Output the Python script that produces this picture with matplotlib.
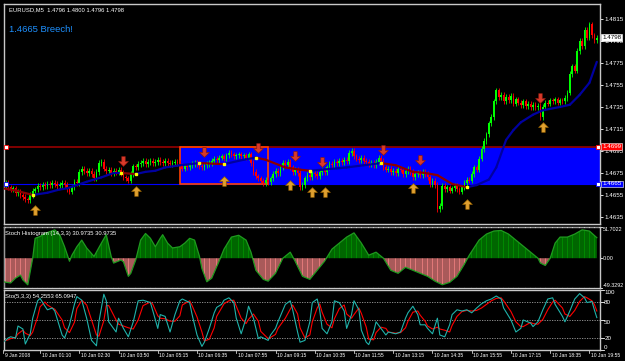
import numpy as np
import matplotlib
matplotlib.use("Agg")
import matplotlib.pyplot as plt
from matplotlib.path import Path
from matplotlib.patches import Rectangle

plt.rcParams['font.family'] = ['Liberation Sans', 'DejaVu Sans']

# ---------------- data ----------------
closes = [
    1.4664, 1.4666, 1.4662, 1.4660, 1.4661, 1.4657, 1.4658, 1.4655, 1.4653, 1.4651,
    1.4650, 1.4655, 1.4659, 1.4660, 1.4663, 1.4662, 1.4664, 1.4663, 1.4665, 1.4664,
    1.4666, 1.4665, 1.4663, 1.4664, 1.4666, 1.4664, 1.4660, 1.4658, 1.4662, 1.4667,
    1.4666, 1.4676, 1.4679, 1.4677, 1.4675, 1.4677, 1.4674, 1.4670, 1.4676, 1.4684,
    1.4685, 1.4679, 1.4677, 1.4678, 1.4675, 1.4677, 1.4676, 1.4678, 1.4675, 1.4671,
    1.4670, 1.4668, 1.4674, 1.4681, 1.4680, 1.4683, 1.4684, 1.4686, 1.4683, 1.4685,
    1.4686, 1.4684, 1.4685, 1.4687, 1.4685, 1.4684, 1.4686, 1.4684, 1.4683, 1.4684,
    1.4685, 1.4684, 1.4682, 1.4679, 1.4681, 1.4680, 1.4682, 1.4683, 1.4684, 1.4683,
    1.4681, 1.4680, 1.4682, 1.4683, 1.4684, 1.4686, 1.4688, 1.4687, 1.4689, 1.4690,
    1.4688, 1.4691, 1.4693, 1.4692, 1.4690, 1.4691, 1.4692, 1.4690, 1.4691, 1.4689,
    1.4692, 1.4684, 1.4676, 1.4672, 1.4670, 1.4668, 1.4666, 1.4669, 1.4667, 1.4670,
    1.4674, 1.4677, 1.4675, 1.4680, 1.4684, 1.4682, 1.4685, 1.4680, 1.4676, 1.4678,
    1.4675, 1.4662, 1.4664, 1.4670, 1.4673, 1.4671, 1.4675, 1.4674, 1.4672, 1.4676,
    1.4678, 1.4676, 1.4680, 1.4683, 1.4682, 1.4685, 1.4684, 1.4686, 1.4685, 1.4687,
    1.4686, 1.4693, 1.4695, 1.4690, 1.4688, 1.4687, 1.4689, 1.4686, 1.4685, 1.4683,
    1.4684, 1.4682, 1.4685, 1.4689, 1.4686, 1.4680, 1.4678, 1.4679, 1.4676, 1.4677,
    1.4675, 1.4679, 1.4678, 1.4674, 1.4677, 1.4679, 1.4676, 1.4671, 1.4674, 1.4675,
    1.4673, 1.4676, 1.4674, 1.4671, 1.4665, 1.4668, 1.4664, 1.4642, 1.4645, 1.4663,
    1.4660, 1.4662, 1.4659, 1.4661, 1.4663, 1.4660, 1.4658, 1.4662, 1.4666, 1.4669,
    1.4668, 1.4674, 1.4680, 1.4678, 1.4688, 1.4697, 1.4704, 1.4710, 1.4720, 1.4726,
    1.4740, 1.4750, 1.4744, 1.4746, 1.4740, 1.4744, 1.4741, 1.4745, 1.4738, 1.4742,
    1.4739, 1.4737, 1.4740, 1.4736, 1.4738, 1.4735, 1.4737, 1.4735, 1.4736, 1.4726,
    1.4735, 1.4739, 1.4738, 1.4741, 1.4740, 1.4742, 1.4739, 1.4741, 1.4740, 1.4743,
    1.4748, 1.4765, 1.4772, 1.4768, 1.4786, 1.4795, 1.4790, 1.4805, 1.4798, 1.4810,
    1.4800, 1.4796, 1.4798,
]

# moving average (bar index, value)
ma_idx = [0, 5, 12, 18, 23, 26, 30, 34, 40, 45, 48, 54, 58, 62, 66, 72, 80, 90, 98,
          103, 107, 115, 121, 125, 130, 140, 147, 154, 160, 167, 172, 177, 183, 189,
          193, 198, 201, 205, 208, 211, 216, 220, 227, 231, 235, 239, 242]
ma_val = [1.4661, 1.4659, 1.4655, 1.4657, 1.4660, 1.4661, 1.4664, 1.4667, 1.4671,
          1.4675, 1.4675, 1.4674, 1.4676, 1.4677, 1.4680, 1.4682, 1.4684, 1.4683,
          1.4687, 1.4689, 1.4687, 1.4680, 1.4678, 1.4677, 1.4678, 1.4680, 1.4682,
          1.4684, 1.4682, 1.4676, 1.4675, 1.4673, 1.4665, 1.4662, 1.4664, 1.4669,
          1.4680, 1.4705, 1.4714, 1.4721, 1.4728, 1.4732, 1.4735, 1.4737, 1.4746,
          1.4757, 1.4776]

up_idx = [13, 54, 90, 117, 126, 131, 167, 189, 220]
up_price = [1.4641, 1.4659, 1.4668, 1.4664, 1.4658, 1.4658, 1.4661, 1.4647, 1.4717]
dn_idx = [49, 82, 104, 119, 130, 155, 170, 219]
dn_price = [1.4686, 1.4694, 1.4698, 1.4690, 1.4685, 1.4696, 1.4687, 1.4743]

breech_hi = 1.4699
breech_lo = 1.4665
box_start, box_end = 72, 108

hist_idx = [0, 3, 5, 7, 8, 10, 12, 13, 15, 17, 19, 21, 23, 25, 27, 28, 30, 32, 34,
            37, 40, 42, 44, 45, 48, 49, 51, 52, 54, 56, 58, 60, 62, 64, 65, 67, 69,
            72, 74, 76, 78, 80, 81, 83, 85, 88, 90, 93, 96, 99, 101, 103, 106, 108,
            111, 114, 117, 119, 122, 125, 128, 131, 134, 137, 140, 143, 146, 149,
            152, 155, 158, 161, 164, 167, 170, 173, 176, 179, 182, 185, 188, 190,
            194, 197, 200, 203, 206, 209, 212, 215, 218, 219, 221, 223, 225, 227,
            230, 233, 236, 239, 242]
hist_val = [-39, -41, -33, -28, -36, -44, 0, 33, 36, 41, 44, 47, 39, 19, -5, 5, 19,
            30, 17, 3, 25, 39, 3, -8, -3, -6, -30, -25, -3, 30, 41, 33, 19, 33, 39,
            25, 17, 19, 25, 33, 30, 3, -17, -39, -33, -5, 15, 35, 38, 30, 10, -20,
            -35, -38, -25, 0, 10, -5, -30, -35, -20, -5, 15, 25, 35, 42, 25, 5, 10,
            0, -20, -25, -15, -20, -25, -30, -38, -44, -40, -30, -10, 5, 30, 40,
            45, 46, 40, 30, 20, 10, 0, -8, -12, 0, 25, 35, 35, 40, 47, 45, 34]

sto_idx = [0, 2, 3, 5, 6, 8, 9, 11, 12, 14, 15, 17, 18, 20, 21, 24, 25, 27, 29, 30,
           32, 34, 36, 38, 39, 41, 42, 43, 46, 47, 49, 51, 53, 55, 57, 60, 61, 63,
           64, 66, 68, 70, 72, 73, 76, 77, 79, 81, 82, 84, 86, 87, 89, 90, 92, 94,
           95, 97, 99, 100, 102, 104, 105, 108, 109, 111, 112, 115, 117, 118, 120,
           121, 123, 125, 126, 128, 129, 130, 132, 134, 135, 137, 139, 140, 142, 143,
           145, 146, 148, 149, 151, 152, 154, 156, 157, 160, 162, 164, 165, 167, 169,
           170, 172, 173, 175, 177, 178, 180, 182, 183, 185, 187, 189, 191, 193, 195,
           197, 199, 201, 203, 204, 207, 209, 211, 212, 215, 216, 218, 220, 222, 224,
           225, 228, 229, 231, 233, 235, 237, 238, 240, 241, 242]
sto_main = [13, 20, 22, 20, 40, 35, 10, 27, 53, 82, 86, 73, 67, 70, 65, 25, 20, 42,
            76, 89, 83, 53, 16, 7, 47, 93, 82, 47, 30, 53, 36, 22, 47, 82, 83, 79, 65,
            36, 59, 56, 30, 59, 82, 85, 79, 59, 25, 6, 13, 36, 62, 71, 76, 83, 87, 79,
            53, 27, 53, 73, 53, 19, 22, 16, 25, 36, 47, 76, 82, 67, 30, 13, 16, 47, 79,
            85, 67, 36, 27, 47, 82, 79, 65, 36, 59, 82, 67, 33, 13, 9, 30, 47, 36, 25,
            30, 27, 30, 53, 62, 73, 59, 42, 42, 36, 27, 53, 25, 22, 42, 59, 67, 65, 67,
            62, 70, 77, 82, 85, 90, 85, 70, 50, 30, 36, 50, 45, 39, 47, 67, 85, 87, 76,
            56, 47, 65, 85, 94, 87, 79, 81, 67, 54]
sto_signal = [15, 17, 19, 21, 27, 33, 28, 24, 30, 55, 72, 80, 75, 70, 68, 50, 37, 29,
              46, 69, 83, 75, 50, 25, 23, 49, 74, 74, 50, 43, 40, 37, 35, 50, 74, 80,
              76, 57, 53, 52, 48, 48, 57, 75, 82, 74, 55, 30, 15, 18, 37, 56, 70, 77,
              82, 83, 73, 53, 44, 51, 60, 48, 31, 19, 21, 26, 36, 53, 68, 75, 60, 37,
              20, 25, 47, 70, 77, 63, 43, 37, 52, 69, 75, 60, 53, 59, 70, 61, 38, 18,
              17, 29, 38, 36, 30, 28, 29, 37, 48, 63, 65, 58, 48, 40, 35, 38, 35, 33,
              30, 41, 56, 64, 66, 65, 66, 70, 76, 82, 86, 87, 82, 64, 47, 39, 39, 46,
              44, 43, 51, 67, 80, 83, 70, 60, 56, 66, 81, 89, 87, 82, 76, 65]

price_ticks = [1.4635, 1.4655, 1.4675, 1.4695, 1.4715, 1.4735, 1.4755, 1.4775,
               1.4795, 1.4815]
time_idx = [0, 15, 31, 47, 63, 79, 95, 111, 127, 143, 159, 175, 191, 207, 223, 239]
time_labels = ['9 Jan 2008', '10 Jan 01:10', '10 Jan 02:30', '10 Jan 03:50',
               '10 Jan 05:15', '10 Jan 06:35', '10 Jan 07:55', '10 Jan 09:15',
               '10 Jan 10:35', '10 Jan 11:55', '10 Jan 13:15', '10 Jan 14:35',
               '10 Jan 15:55', '10 Jan 17:15', '10 Jan 18:35', '10 Jan 19:55']

# ---------------- figure ----------------
W, H = 625, 361
fig = plt.figure(figsize=(W / 100, H / 100), dpi=100)
fig.patch.set_facecolor('black')


def px_axes(x0, y0, x1, y1):
    return fig.add_axes([x0 / W, 1 - y1 / H, (x1 - x0) / W, (y1 - y0) / H])


ax1 = px_axes(4, 4, 600, 224)
ax2 = px_axes(4, 227, 600, 288)
ax3 = px_axes(4, 290, 600, 350)

XMIN, XMAX = 0.3, 243.3
for ax in (ax1, ax2, ax3):
    ax.set_facecolor('black')
    ax.set_xlim(XMIN, XMAX)
    for s in ax.spines.values():
        s.set_color('#c8c8c8')
        s.set_linewidth(1.0)
    ax.yaxis.tick_right()
    ax.tick_params(axis='y', colors='white', labelsize=4.5, length=2, width=0.6, pad=1)
    ax.tick_params(axis='x', bottom=False, labelbottom=False)

# ---------------- main price panel ----------------
ax1.set_ylim(1.46286, 1.48286)

# breech zone
ax1.add_patch(Rectangle((box_start, breech_lo), XMAX - box_start, breech_hi - breech_lo,
                        facecolor='#0000ff', edgecolor='none', zorder=1))
ax1.axhline(breech_hi, color='#8b0000', lw=1.3, zorder=2)
ax1.axhline(breech_lo, color='#0000ff', lw=0.8, zorder=2)
ax1.add_patch(Rectangle((box_start, breech_lo), box_end - box_start, breech_hi - breech_lo,
                        facecolor='none', edgecolor='#ff4000', lw=1.2, zorder=3))
for yv, ec in ((breech_hi, '#ff0000'), (breech_lo, '#0000ff')):
    ax1.plot([XMIN + 0.8, XMAX - 0.8], [yv, yv], 's', ms=2.5, mfc='white', mec=ec,
             mew=0.6, zorder=6, clip_on=False)

# candles
c = np.array(closes)
o = np.r_[c[0] + 0.0002, c[:-1]]
idx = np.arange(len(c))
hi = np.maximum(o, c) + 0.00025
lo = np.minimum(o, c) - 0.00025
col = np.where(c >= o, '#00ff00', '#ff0000')
ax1.vlines(idx, lo, hi, colors=col, lw=0.6, zorder=4)
body = np.maximum(np.abs(c - o), 0.00005)
ax1.bar(idx, body, bottom=np.minimum(o, c), width=0.7, color=col, lw=0, zorder=4)

# moving average, red where falling
for k in range(len(ma_idx) - 1):
    falling = ma_val[k + 1] < ma_val[k]
    ax1.plot(ma_idx[k:k + 2], ma_val[k:k + 2], color='#8b0000' if falling else '#0000a0',
             lw=1.6, solid_capstyle='round', zorder=5)
for k in range(1, len(ma_idx) - 1):
    if (ma_val[k + 1] < ma_val[k]) != (ma_val[k] < ma_val[k - 1]):
        ax1.plot(ma_idx[k], ma_val[k], 's', color='#ffff00', ms=1.6, zorder=6)

# arrows
dn_marker = Path([(-0.18, 0.5), (0.18, 0.5), (0.18, 0.0), (0.5, 0.0), (0, -0.5),
                  (-0.5, 0.0), (-0.18, 0.0), (-0.18, 0.5)], closed=True)
up_marker = Path([(-0.18, -0.5), (0.18, -0.5), (0.18, 0.0), (0.5, 0.0), (0, 0.5),
                  (-0.5, 0.0), (-0.18, 0.0), (-0.18, -0.5)], closed=True)
ax1.plot(dn_idx, dn_price, ls='none', marker=dn_marker, ms=7, mfc='#d83a2a',
         mec='#8b1a10', mew=0.5, zorder=7)
ax1.plot(up_idx, up_price, ls='none', marker=up_marker, ms=7, mfc='#e0a030',
         mec='#8b5a00', mew=0.5, zorder=7)

ax1.set_yticks(price_ticks)
ax1.set_yticklabels([f'{t:.4f}' for t in price_ticks])

# price tags on the right scale
for val, fc, tc in ((1.4798, 'white', 'black'), (breech_hi, '#ff0000', 'white'),
                    (breech_lo, '#0000ff', 'white')):
    ax1.text(1.004, val, f'{val:.4f}', transform=ax1.get_yaxis_transform(),
             fontsize=4.5, color=tc, va='center', ha='left', zorder=10,
             bbox=dict(boxstyle='square,pad=0.15', fc=fc, ec='white', lw=0.4),
             clip_on=False)

ax1.text(0.008, 0.985, 'EURUSD,M5  1.4796 1.4800 1.4796 1.4798', transform=ax1.transAxes,
         fontsize=4.2, color='white', va='top', ha='left')
ax1.text(0.009, 0.885, '1.4665 Breech!', transform=ax1.transAxes, fontsize=6.8,
         color='#1e90ff', va='center', ha='left')

# ---------------- stoch histogram panel ----------------
ax2.set_ylim(-49.3292, 51.7022)
hx = np.array(hist_idx)
hv = np.array(hist_val)
ax2.fill_between(hx, 0, hv, where=hv >= 0, interpolate=True, color='#008800', lw=0)
ax2.fill_between(hx, 0, hv, where=hv < 0, interpolate=True, color='#e07878', lw=0)
ax2.vlines(np.arange(0, 243) + 0.5, -60, 60, colors='black', lw=0.35, zorder=3)
ax2.plot(hx, hv, color='#1f9a1f', lw=0.9, zorder=4)
ax2.set_yticks([])
for val, lab, va in ((51.7022, '51.7022', 'top'), (0, '0.00', 'center'),
                     (-49.3292, '-49.3292', 'bottom')):
    ax2.plot([1.0, 1.004], [val, val], color='white', lw=0.6,
             transform=ax2.get_yaxis_transform(), clip_on=False)
    ax2.text(1.004, val, lab, transform=ax2.get_yaxis_transform(), fontsize=3.9,
             color='white', va=va, ha='left')
ax2.text(0.002, 0.93, 'Stoch Histogram (14,3,3) 30.9735 30.9735', transform=ax2.transAxes,
         fontsize=4.2, color='white', va='top', ha='left', zorder=5)

# ---------------- stochastic panel ----------------
ax3.set_ylim(0, 100)
for lvl in (20, 50, 80):
    ax3.axhline(lvl, color='#a0a0a0', lw=0.6, ls=(0, (1.5, 1.5)))
ax3.plot(sto_idx, sto_signal, color='#ff0000', lw=0.8, zorder=3)
ax3.plot(sto_idx, sto_main, color='#20b2aa', lw=0.8, zorder=4)
ax3.set_yticks([])
for val, va in ((100, 'top'), (80, 'center'), (50, 'top'), (20, 'center'), (0, 'bottom')):
    ax3.plot([1.0, 1.006], [val, val], color='white', lw=0.6,
             transform=ax3.get_yaxis_transform(), clip_on=False)
    ax3.text(1.007, val, str(val), transform=ax3.get_yaxis_transform(), fontsize=4.5,
             color='white', va=va, ha='left')
ax3.text(0.002, 0.93, 'Sto(5,3,3) 54.2553 65.0947', transform=ax3.transAxes,
         fontsize=4.2, color='white', va='top', ha='left', zorder=5)

# time axis
for i, lab in zip(time_idx, time_labels):
    ax3.plot([i, i], [0, -5], color='white', lw=0.5, clip_on=False)
    ax3.text(i + 0.6, -9, lab, fontsize=3.6, color='white', ha='left', va='center',
             clip_on=False)

fig.savefig('out.png', dpi=100, facecolor='black')
